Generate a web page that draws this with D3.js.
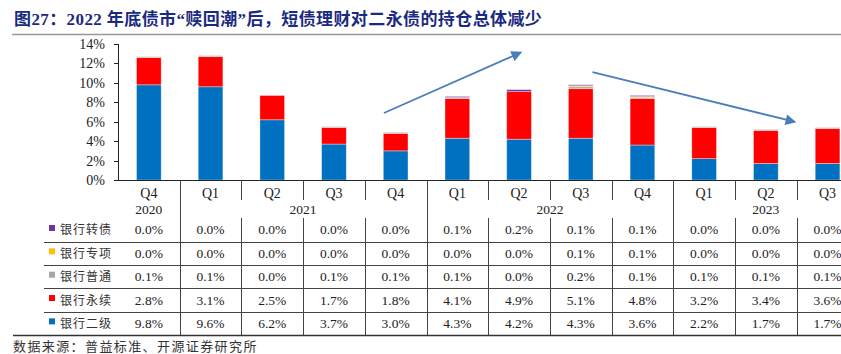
<!DOCTYPE html>
<html lang="zh">
<head>
<meta charset="UTF-8">
<title>二永债持仓</title>
<style>
  body { margin: 0; background: #fff; }
  svg { display: block; }
  .axis path, .axis line { stroke: #222; shape-rendering: crispEdges; }
  .axis text { font-family: "Liberation Serif", serif; font-size: 14px; fill: #222; }
  .cell { font-family: "Liberation Serif", serif; font-size: 13.5px; fill: #222; }
  .grid { stroke: #444; stroke-width: 1; shape-rendering: crispEdges; }
</style>
</head>
<body>
<svg id="chart"></svg>
<script src="https://cdn.jsdelivr.net/npm/d3@7/dist/d3.min.js"></script>
<script>
// 数据
var quarters = ["Q4", "Q1", "Q2", "Q3", "Q4", "Q1", "Q2", "Q3", "Q4", "Q1", "Q2", "Q3"];
var years = ["2020", "2021", "2022", "2023"];
var yearSpans = [1, 4, 4, 3];
var erji   = [9.8, 9.6, 6.2, 3.7, 3.0, 4.3, 4.2, 4.3, 3.6, 2.2, 1.7, 1.7];
var yongxu = [2.8, 3.1, 2.5, 1.7, 1.8, 4.1, 4.9, 5.1, 4.8, 3.2, 3.4, 3.6];
var putong = [0.1, 0.1, 0.0, 0.1, 0.1, 0.1, 0.0, 0.2, 0.1, 0.1, 0.1, 0.1];
var zhuanxiang = [0.0, 0.0, 0.0, 0.0, 0.0, 0.0, 0.0, 0.1, 0.1, 0.0, 0.0, 0.0];
var zhuanzhai = [0.0, 0.0, 0.0, 0.0, 0.0, 0.1, 0.2, 0.1, 0.1, 0.0, 0.0, 0.0];
var yTicks = [0, 2, 4, 6, 8, 10, 12, 14];
// 箭头（类目位置，数值）
var arrows = [
  {x1: 4.31, y1: 6.9, x2: 6.52, y2: 13.1},
  {x1: 7.69, y1: 11.1, x2: 10.96, y2: 6.0}
];

var series = [
  {key: "bank2", name: "银行二级", color: "#0070C0", values: erji},
  {key: "perp", name: "银行永续", color: "#FF0000", values: yongxu},
  {key: "common", name: "银行普通", color: "#A6A6A6", values: putong},
  {key: "special", name: "银行专项", color: "#FFC000", values: zhuanxiang},
  {key: "cb", name: "银行转债", color: "#7030A0", values: zhuanzhai}
];

var w = 841, h = 354;
var svg = d3.select("#chart").attr("width", w).attr("height", h);

var plotLeft = 118, step = 61.7;
var plotRight = plotLeft + step * quarters.length;
var plotTop = 44, plotBase = 180;

var cols = d3.scaleBand().domain(d3.range(quarters.length)).range([plotLeft, plotRight]).padding(0);
var xBar = d3.scaleBand().domain(d3.range(quarters.length)).range([plotLeft, plotRight])
  .paddingInner(0.6).paddingOuter(0.3);
var yScale = d3.scaleLinear().domain([0, 14]).range([plotBase, plotTop]);
var xPos = d3.scaleLinear().domain([0, quarters.length]).range([plotLeft, plotRight]);

// 标题
svg.append("text")
  .attr("x", 14).attr("y", 25)
  .attr("font-family", "'Liberation Serif', 'Noto Sans CJK SC', serif")
  .attr("font-weight", "bold")
  .attr("font-size", "17px")
  .attr("letter-spacing", "0.4px")
  .attr("fill", "#1B2A80")
  .text("图27：2022 年底债市“赎回潮”后，短债理财对二永债的持仓总体减少");
svg.append("line")
  .attr("x1", 12).attr("x2", w).attr("y1", 34.5).attr("y2", 34.5)
  .attr("stroke", "#999").attr("stroke-width", 1.5);

// 堆叠柱
var rows = quarters.map(function(q, i) {
  var r = {i: i};
  series.forEach(function(s) { r[s.key] = s.values[i]; });
  return r;
});
var stacked = d3.stack().keys(series.map(function(s) { return s.key; }))(rows);

svg.append("g").selectAll("g")
  .data(stacked)
  .enter().append("g")
  .attr("fill", function(d, k) { return series[k].color; })
  .selectAll("rect")
  .data(function(d) { return d; })
  .enter().append("rect")
  .attr("x", function(d) { return xBar(d.data.i); })
  .attr("width", xBar.bandwidth())
  .attr("y", function(d) { return yScale(d[1]); })
  .attr("height", function(d) { return yScale(d[0]) - yScale(d[1]); })
  .attr("stroke", "#fff").attr("stroke-opacity", 0.45).attr("stroke-width", 0.8);

// Y轴
var yAxis = d3.axisLeft(yScale).tickValues(yTicks).tickSize(4).tickPadding(9)
  .tickFormat(function(d) { return d + "%"; });
svg.append("g").attr("class", "axis")
  .attr("transform", "translate(" + plotLeft + ",0)")
  .call(yAxis)
  .call(function(g) { g.select(".domain").attr("d", "M-4," + plotTop + "H0V" + plotBase); });

// X轴 (季度)
var xAxis = d3.axisBottom(cols).tickSize(0).tickPadding(8)
  .tickFormat(function(i) { return quarters[i]; });
svg.append("g").attr("class", "axis")
  .attr("transform", "translate(0," + plotBase + ")")
  .call(xAxis)
  .call(function(g) { g.select(".domain").attr("d", "M" + plotLeft + ",0H" + plotRight); });

// 表格
var rowTop = 218.3, rowH = 23.35, tableBottom = rowTop + rowH * 5;
var grid = svg.append("g");
var yearEdges = [];
var acc = 0;
yearSpans.forEach(function(n) { acc += n; yearEdges.push(acc); });

d3.range(1, quarters.length).forEach(function(i) {
  var x = Math.round(cols(i)) + 0.5;
  if (yearEdges.indexOf(i) >= 0) {
    grid.append("line").attr("class", "grid").attr("x1", x).attr("x2", x).attr("y1", plotBase).attr("y2", tableBottom);
  } else {
    grid.append("line").attr("class", "grid").attr("x1", x).attr("x2", x).attr("y1", plotBase).attr("y2", 200);
    grid.append("line").attr("class", "grid").attr("x1", x).attr("x2", x).attr("y1", rowTop).attr("y2", tableBottom);
  }
});

// 年份
var start = 0;
years.forEach(function(y, k) {
  var x0 = cols(start), x1 = cols(start + yearSpans[k] - 1) + cols.bandwidth();
  svg.append("text").attr("class", "cell")
    .attr("x", (x0 + x1) / 2).attr("y", 214)
    .attr("text-anchor", "middle").attr("font-size", "14px")
    .text(y);
  start += yearSpans[k];
});

var tableRows = series.slice().reverse();
tableRows.forEach(function(s, r) {
  var yMid = rowTop + rowH * (r + 0.5);
  if (r > 0) {
    grid.append("line").attr("class", "grid")
      .attr("x1", 44).attr("x2", w)
      .attr("y1", Math.round(rowTop + rowH * r) + 0.5).attr("y2", Math.round(rowTop + rowH * r) + 0.5);
  }
  svg.append("rect").attr("x", 49).attr("y", yMid - 5).attr("width", 6).attr("height", 6).attr("fill", s.color);
  svg.append("text")
    .attr("x", 60).attr("y", yMid + 4.5)
    .attr("font-family", "'Noto Sans CJK SC', sans-serif")
    .attr("font-size", "12px").attr("letter-spacing", "1px")
    .attr("fill", "#333")
    .text(s.name);
  svg.append("g").selectAll("text")
    .data(s.values)
    .enter().append("text")
    .attr("class", "cell")
    .attr("x", function(d, i) { return cols(i) + cols.bandwidth() / 2; })
    .attr("y", yMid + 4.5)
    .attr("text-anchor", "middle")
    .text(function(d) { return d3.format(".1f")(d) + "%"; });
});
grid.append("line").attr("x1", 13).attr("x2", w)
  .attr("y1", Math.round(tableBottom) + 0.5).attr("y2", Math.round(tableBottom) + 0.5)
  .attr("stroke", "#333").attr("stroke-width", 1.5);

// 箭头
var defs = svg.append("defs");
defs.append("marker")
  .attr("id", "head").attr("viewBox", "0 0 10 10")
  .attr("refX", 8).attr("refY", 5)
  .attr("markerWidth", 7).attr("markerHeight", 6)
  .attr("orient", "auto")
  .attr("markerUnits", "strokeWidth")
  .append("path").attr("d", "M0,0L10,5L0,10Z").attr("fill", "#4A7EBB");
svg.append("g").selectAll("line")
  .data(arrows)
  .enter().append("line")
  .attr("x1", function(d) { return xPos(d.x1); })
  .attr("y1", function(d) { return yScale(d.y1); })
  .attr("x2", function(d) { return xPos(d.x2); })
  .attr("y2", function(d) { return yScale(d.y2); })
  .attr("stroke", "#4A7EBB").attr("stroke-width", 1.8)
  .attr("marker-end", "url(#head)");

// 数据来源
svg.append("text")
  .attr("x", 13).attr("y", 351)
  .attr("font-family", "'Noto Sans CJK SC', sans-serif")
  .attr("font-size", "13px").attr("letter-spacing", "1.4px")
  .attr("fill", "#333")
  .text("数据来源：普益标准、开源证券研究所");
</script>
</body>
</html>
